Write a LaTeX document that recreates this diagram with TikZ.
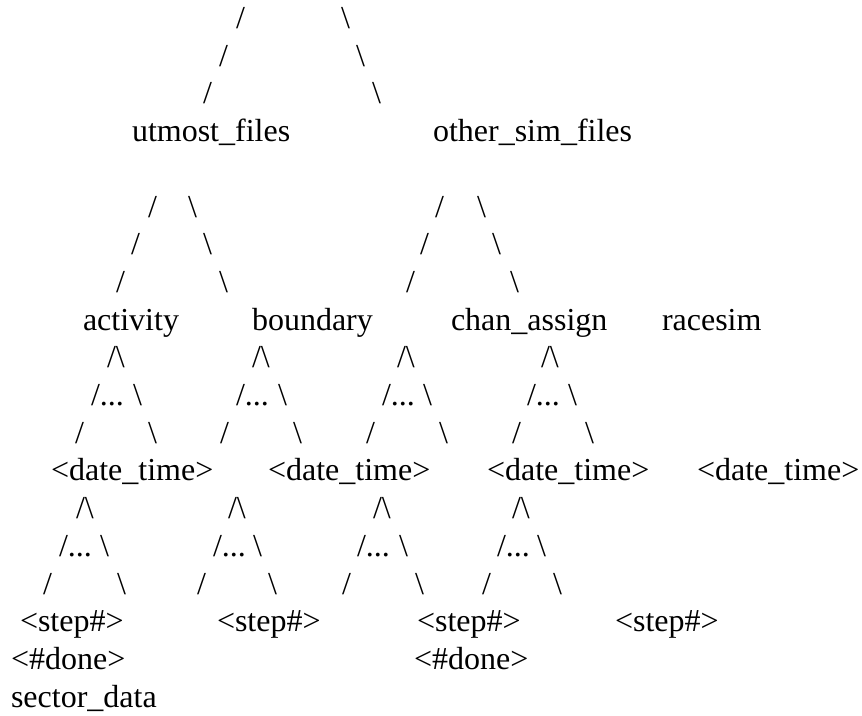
\documentclass[tikz,border=0pt]{standalone}
\usepackage{fontspec}
\setmainfont{Liberation Serif}
\newcommand{\bs}{\textbackslash}
\begin{document}
\begin{tikzpicture}[x=1pt,y=-1pt,
  txt/.style={anchor=base west,inner sep=0pt,outer sep=0pt,
              font=\fontsize{32}{37.7}\selectfont}]
\fill[white] (0,0) rectangle (862,715);
\useasboundingbox (0,0) rectangle (862,715);

% top fork
\node[txt] (t1l) at (236,28.5)  {/};
\node[txt] (t1r) at (341,28.5)  {\bs};
\node[txt] (t2l) at (219,66.2)  {/};
\node[txt] (t2r) at (356,66.2)  {\bs};
\node[txt] (t3l) at (203,103.9) {/};
\node[txt] (t3r) at (372,103.9) {\bs};

% second level
\node[txt] (utmost) at (132,141.6) {utmost\_files};
\node[txt] (other)  at (433,141.6) {other\_sim\_files};

% forks under utmost_files and other_sim_files
\node[txt] (u1l) at (148,217)   {/};
\node[txt] (u1r) at (188,217)   {\bs};
\node[txt] (u2l) at (131,254.7) {/};
\node[txt] (u2r) at (203,254.7) {\bs};
\node[txt] (u3l) at (116,292.4) {/};
\node[txt] (u3r) at (219,292.4) {\bs};
\node[txt] (o1l) at (435,217)   {/};
\node[txt] (o1r) at (477,217)   {\bs};
\node[txt] (o2l) at (420,254.7) {/};
\node[txt] (o2r) at (492,254.7) {\bs};
\node[txt] (o3l) at (406,292.4) {/};
\node[txt] (o3r) at (510,292.4) {\bs};

% third level
\node[txt] (activity) at (83,330.1)  {activity};
\node[txt] (boundary) at (252,330.1) {boundary};
\node[txt] (chan)     at (451,330.1) {chan\_assign};
\node[txt] (racesim)  at (662,330.1) {racesim};

% forks down to the date_time level
\node[txt] (a1) at (107,367.8) {/\bs};
\node[txt] (b1) at (252,367.8) {/\bs};
\node[txt] (c1) at (397,367.8) {/\bs};
\node[txt] (d1) at (541,367.8) {/\bs};
\node[txt] (a2l) at (91,405.5)  {/...};
\node[txt] (a2r) at (133,405.5) {\bs};
\node[txt] (b2l) at (236,405.5) {/...};
\node[txt] (b2r) at (278,405.5) {\bs};
\node[txt] (c2l) at (382,405.5) {/...};
\node[txt] (c2r) at (423,405.5) {\bs};
\node[txt] (d2l) at (527,405.5) {/...};
\node[txt] (d2r) at (568,405.5) {\bs};
\node[txt] (a3l) at (75,443.2)  {/};
\node[txt] (a3r) at (148,443.2) {\bs};
\node[txt] (b3l) at (220,443.2) {/};
\node[txt] (b3r) at (293,443.2) {\bs};
\node[txt] (c3l) at (366,443.2) {/};
\node[txt] (c3r) at (439,443.2) {\bs};
\node[txt] (d3l) at (512,443.2) {/};
\node[txt] (d3r) at (585,443.2) {\bs};

% date_time level
\node[txt] (dt1) at (51,480.9)  {<date\_time>};
\node[txt] (dt2) at (268,480.9) {<date\_time>};
\node[txt] (dt3) at (487,480.9) {<date\_time>};
\node[txt] (dt4) at (697,480.9) {<date\_time>};

% forks down to the step level
\node[txt] (e1) at (76,518.6)  {/\bs};
\node[txt] (f1) at (228,518.6) {/\bs};
\node[txt] (g1) at (373,518.6) {/\bs};
\node[txt] (h1) at (512,518.6) {/\bs};
\node[txt] (e2l) at (59,556.3)  {/...};
\node[txt] (e2r) at (100,556.3) {\bs};
\node[txt] (f2l) at (213,556.3) {/...};
\node[txt] (f2r) at (253,556.3) {\bs};
\node[txt] (g2l) at (357,556.3) {/...};
\node[txt] (g2r) at (399,556.3) {\bs};
\node[txt] (h2l) at (497,556.3) {/...};
\node[txt] (h2r) at (537,556.3) {\bs};
\node[txt] (e3l) at (43,594)  {/};
\node[txt] (e3r) at (117,594) {\bs};
\node[txt] (f3l) at (197,594) {/};
\node[txt] (f3r) at (268,594) {\bs};
\node[txt] (g3l) at (342,594) {/};
\node[txt] (g3r) at (415,594) {\bs};
\node[txt] (h3l) at (482,594) {/};
\node[txt] (h3r) at (553,594) {\bs};

% step level and leaves
\node[txt] (st1) at (20,631.7)  {<step\#>};
\node[txt] (st2) at (217,631.7) {<step\#>};
\node[txt] (st3) at (417,631.7) {<step\#>};
\node[txt] (st4) at (615,631.7) {<step\#>};
\node[txt] (dn1) at (11,669.4)  {<\#done>};
\node[txt] (dn2) at (414,669.4) {<\#done>};
\node[txt] (sector) at (11,707.1) {sector\_data};
\end{tikzpicture}
\end{document}
